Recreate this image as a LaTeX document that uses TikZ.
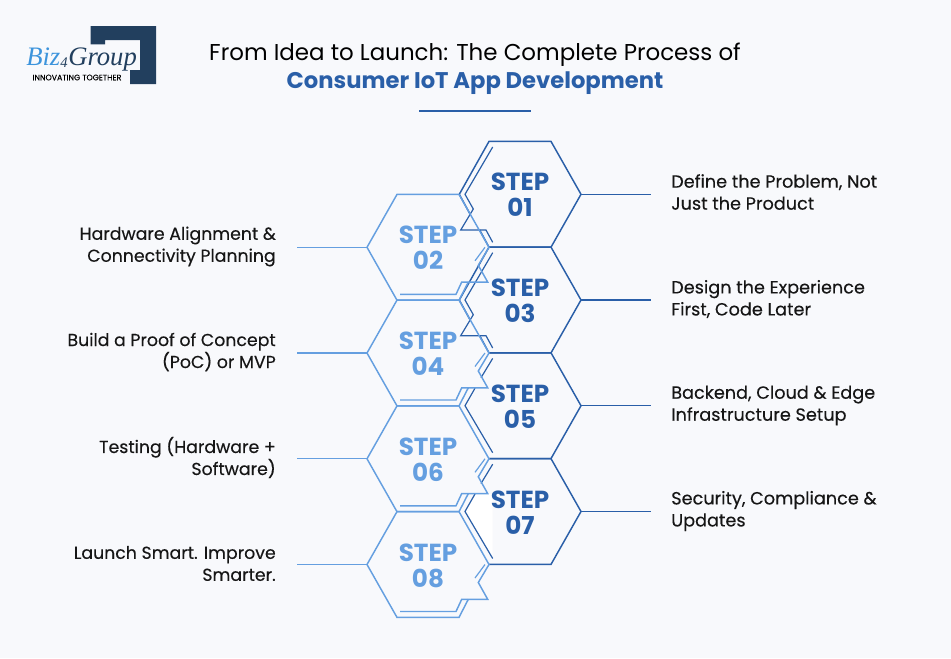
\documentclass[tikz,border=0pt]{standalone}
\usepackage{fontspec}
\setmainfont{Poppins}
\newfontfamily\logofont{Liberation Serif}
\newfontfamily\lblfont{Poppins}[FakeBold=0.25]
\definecolor{pagebg}{HTML}{F8F9FC}
\definecolor{stepdark}{HTML}{2A5FA8}
\definecolor{steplight}{HTML}{659FE0}
\definecolor{logonavy}{HTML}{223F5E}
\definecolor{logoblue}{HTML}{3D94DC}
\definecolor{inktext}{HTML}{161616}
\tikzset{
  lbl/.style={text=inktext,font=\lblfont\fontsize{13.25}{16.5}\selectfont,inner sep=0pt},
  lblleft/.style={text=inktext,font=\lblfont\fontsize{13}{16.5}\selectfont,inner sep=0pt},
  darkstep/.style={text=stepdark,font=\fontsize{18.5}{19.8}\selectfont\bfseries,align=center},
  lightstep/.style={text=steplight,font=\fontsize{18.5}{19.8}\selectfont\bfseries,align=center},
  darkhex/.pic={
    \draw[stepdark,line width=.9pt,line join=miter] (-27.3,-47.3) -- (-55,0) -- (-46.7,14.7) -- (-59.3,35.7) -- (-34,35.7) -- (-27.3,48);
    \draw[stepdark,line width=1.1pt] (-50,19.7) -- (-60.7,0) -- (-31,-52.9) -- (31,-52.9) -- (61,0) -- (31,52.9) -- (-31,52.9) -- (-40.3,35.7);
  },
  lasthex/.pic={
    \draw[stepdark,line width=.9pt] (-27.3,-47.3) -- (-39,-28);
    \draw[stepdark,line width=.9pt] (-45,-17.5) -- (-55,0) -- (-27.3,47);
    \draw[stepdark,line width=1.1pt] (-31,-52.9) -- (31,-52.9) -- (61,0) -- (31,52.9) -- (-31,52.9);
  },
  lighthex/.pic={
    \draw[steplight,line width=1.1pt] (31,-52.9) -- (-31,-52.9) -- (-61,0) -- (-31,52.9) -- (31,52.9) -- (40.3,34.8);
    \draw[steplight,line width=1.1pt] (31,-52.9) -- (61,0) -- (50.3,18) -- (59.7,34.8) -- (33.7,34.8) -- (28,47) -- (-28,47);
    \draw[steplight,line width=.9pt] (57,0) -- (47,13.5);
  }
}

\begin{document}
\begin{tikzpicture}[x=.75pt, y=-.75pt]
    \useasboundingbox[fill=pagebg] (0,0) rectangle (951,658);
    % logo
    \fill[logonavy] (90.7,26) -- (156,26) -- (156,84) -- (130,84) -- (130,70) -- (140,70) -- (140,40) -- (105,40) -- (105,44.3) -- (90.7,44.3) -- cycle;
    \node[text=logoblue,font=\logofont\itshape\fontsize{20}{20}\selectfont,inner sep=0pt,anchor=base west] (biz) at (26,65) {Biz};
    \node[text=logonavy,font=\logofont\itshape\fontsize{11}{11}\selectfont,inner sep=0pt,anchor=base west] (four) at (60,67) {4};
    \node[text=logonavy,font=\logofont\itshape\fontsize{20}{20}\selectfont,inner sep=0pt,anchor=base west] (group) at (68,65) {Group};
    \node[text=black,font=\lblfont\fontsize{5.9}{6}\selectfont,inner sep=0pt] (tagline) at (77,77.5) {INNOVATING TOGETHER};
    % title
    \node[text=black,font=\fontsize{17.2}{20}\selectfont,inner sep=0pt] (title) at (475,54.5) {From Idea to Launch: The Complete Process of};
    \node[text=stepdark,font=\fontsize{17}{20}\selectfont\bfseries,inner sep=0pt] (subtitle) at (475,83) {Consumer IoT App Development};
    \coordinate (rulea) at (419,111);
    \coordinate (ruleb) at (531,111);
    \draw[stepdark,line width=1.1pt] (rulea) -- (ruleb);
    % white patch of the last right hexagon
    \fill[white] (492.7,494) -- (475,494) -- (465,511.5) -- (492.7,558.5) -- cycle;
    % hexagons
    \pic at (520,194.3) {darkhex};
    \pic at (520,300) {darkhex};
    \pic at (520,405.7) {lasthex};
    \pic at (520,511.5) {lasthex};
    \pic at (428,247.3) {lighthex};
    \pic at (428,353) {lighthex};
    \pic at (428,458.8) {lighthex};
    \pic at (428,564.5) {lighthex};
    % steps
    \node[darkstep] (s1) at (520,195) {STEP\\01};
    \node[lightstep] (s2) at (428,248) {STEP\\02};
    \node[darkstep] (s3) at (520,301) {STEP\\03};
    \node[lightstep] (s4) at (428,354) {STEP\\04};
    \node[darkstep] (s5) at (520,407) {STEP\\05};
    \node[lightstep] (s6) at (428,460) {STEP\\06};
    \node[darkstep] (s7) at (520,513) {STEP\\07};
    \node[lightstep] (s8) at (428,566) {STEP\\08};
    % labels
    \node[lbl,align=left,anchor=west] (t1) at (671,192) {Define the Problem, Not\\Just the Product};
    \node[lblleft,align=right,anchor=east] (t2) at (276,246.5) {Hardware Alignment \&\\Connectivity Planning};
    \node[lbl,align=left,anchor=west] (t3) at (671,299) {Design the Experience\\First, Code Later};
    \node[lblleft,align=right,anchor=east] (t4) at (276,352) {Build a Proof of Concept\\(PoC) or MVP};
    \node[lbl,align=left,anchor=west] (t5) at (671,405.5) {Backend, Cloud \& Edge\\Infrastructure Setup};
    \node[lblleft,align=right,anchor=east] (t6) at (276,457.5) {Testing (Hardware +\\Software)};
    \node[lbl,align=left,anchor=west] (t7) at (671,511) {Security, Compliance \&\\Updates};
    \node[lblleft,align=right,anchor=east] (t8) at (276,563.5) {Launch Smart. Improve\\Smarter.};
    % connectors
    \coordinate (r1) at (581,194.3); \coordinate (e1) at (651,194.3);
    \coordinate (r3) at (581,300); \coordinate (e3) at (651,300);
    \coordinate (r5) at (581,405.7); \coordinate (e5) at (651,405.7);
    \coordinate (r7) at (581,511.5); \coordinate (e7) at (651,511.5);
    \coordinate (l2) at (367,247.3); \coordinate (e2) at (297,247.3);
    \coordinate (l4) at (367,353); \coordinate (e4) at (297,353);
    \coordinate (l6) at (367,458.8); \coordinate (e6) at (297,458.8);
    \coordinate (l8) at (367,564.5); \coordinate (e8) at (297,564.5);
    \draw[stepdark,line width=.9pt] (r1) -- (e1);
    \draw[stepdark,line width=.9pt] (r3) -- (e3);
    \draw[stepdark,line width=.9pt] (r5) -- (e5);
    \draw[stepdark,line width=.9pt] (r7) -- (e7);
    \draw[steplight,line width=.9pt] (l2) -- (e2);
    \draw[steplight,line width=.9pt] (l4) -- (e4);
    \draw[steplight,line width=.9pt] (l6) -- (e6);
    \draw[steplight,line width=.9pt] (l8) -- (e8);
\end{tikzpicture}
\end{document}
